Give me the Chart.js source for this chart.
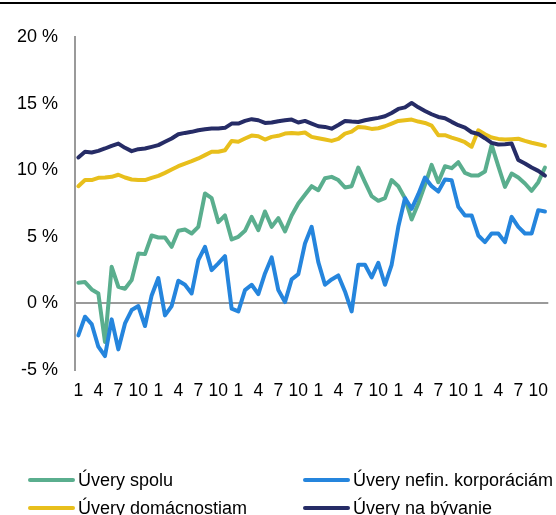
<!DOCTYPE html>
<html><head><meta charset="utf-8">
<script src="https://cdn.jsdelivr.net/npm/chart.js@4"></script>
<style>
html,body{margin:0;padding:0;background:#fff;}
#wrap{position:relative;width:556px;height:515px;overflow:hidden;background:#fff;}
#topline{position:absolute;left:0;top:2px;width:556px;height:2px;background:#000;}
canvas{position:absolute;left:0;top:0;}
.leg{position:absolute;font-family:"Liberation Sans",Arial,sans-serif;font-size:18px;color:#000;white-space:nowrap;height:22px;line-height:22px;}
.leg .sw{position:absolute;left:0;top:9px;width:47px;height:4px;border-radius:2px;}
.leg .tx{position:absolute;left:50px;top:0;}
</style></head>
<body><div id="wrap"><canvas id="c" width="556" height="515"></canvas><div id="topline"></div><div id="legend"></div></div>
<script>
const months = [
 "1","2","3","4","5","6","7","8","9","10","11","12",
 "1","2","3","4","5","6","7","8","9","10","11","12",
 "1","2","3","4","5","6","7","8","9","10","11","12",
 "1","2","3","4","5","6","7","8","9","10","11","12",
 "1","2","3","4","5","6","7","8","9","10","11","12",
 "1","2","3","4","5","6","7","8","9","10","11"
];
const shownMonths = ["1","4","7","10"];
const yTicks = [-5, 0, 5, 10, 15, 20];

const seriesNames = ["Úvery spolu", "Úvery nefin. korporáciám", "Úvery domácnostiam", "Úvery na bývanie"];

const uverySpolu = [
 1.55,1.6,1.05,0.75,-2.9,2.75,1.25,1.1,1.75,3.75,3.7,5.1,
 4.95,4.95,4.25,5.45,5.55,5.25,5.75,8.25,7.9,6.1,6.6,4.8,
 5.0,5.45,6.5,5.5,6.9,5.75,6.4,5.4,6.6,7.5,8.15,8.8,
 8.5,9.4,9.5,9.26,8.7,8.8,10.2,9.1,8.05,7.7,7.9,9.26,
 8.8,7.9,6.3,7.5,8.9,10.4,9.1,10.3,10.15,10.6,9.8,9.6,
 9.6,9.9,11.9,10.3,8.75,9.75,9.45,9.0,8.45,9.1,10.2
];
const uveryNefin = [
 -2.4,-1.0,-1.55,-3.25,-3.95,-1.2,-3.45,-1.5,-0.5,-0.2,-1.7,0.6,
 1.9,-0.9,-0.2,1.7,1.4,0.75,3.25,4.25,2.5,3.0,3.55,-0.4,
 -0.6,1.0,1.4,0.7,2.25,3.45,1.0,0.1,1.8,2.2,4.5,5.75,
 3.1,1.4,1.8,2.1,0.9,-0.6,2.9,2.9,1.95,3.05,1.4,2.9,
 5.75,7.9,7.1,8.2,9.45,8.8,8.4,9.3,9.25,7.25,6.6,6.6,
 5.1,4.6,5.25,5.25,4.6,6.5,5.75,5.25,5.25,7.0,6.9
];
const uveryDomacnostiam = [
 8.8,9.26,9.26,9.43,9.45,9.5,9.66,9.45,9.3,9.26,9.26,9.43,
 9.58,9.8,10.05,10.3,10.5,10.68,10.88,11.13,11.38,11.38,11.5,12.2,
 12.13,12.38,12.6,12.55,12.3,12.5,12.58,12.75,12.8,12.75,12.83,12.5,
 12.4,12.3,12.2,12.35,12.75,12.9,13.25,13.2,13.1,13.15,13.3,13.5,
 13.7,13.75,13.8,13.65,13.55,13.35,12.63,12.63,12.45,12.3,12.1,11.76,
 13.0,12.7,12.45,12.35,12.3,12.33,12.36,12.2,12.06,11.95,11.83
];
const uveryByvanie = [
 10.96,11.38,11.33,11.45,11.63,11.83,12.0,11.68,11.43,11.58,11.63,11.75,
 11.88,12.13,12.38,12.7,12.8,12.88,13.0,13.08,13.13,13.13,13.18,13.5,
 13.5,13.7,13.83,13.75,13.55,13.58,13.68,13.75,13.8,13.58,13.7,13.5,
 13.3,13.25,13.12,13.4,13.7,13.65,13.62,13.75,13.85,13.93,14.05,14.3,
 14.6,14.72,15.05,14.72,14.45,14.2,14.0,13.9,13.63,13.38,13.2,12.85,
 12.72,12.4,12.05,11.93,11.95,12.0,10.76,10.5,10.2,9.95,9.6
];

const colGreen = "#5aae8e";
const colBlue = "#2585dd";
const colYellow = "#e8bf1c";
const colNavy = "#262c66";
const FONT = '"Liberation Sans", Arial, sans-serif';

const datasets = [
 {label: seriesNames[0], data: uverySpolu, borderColor: colGreen, order: 3},
 {label: seriesNames[2], data: uveryDomacnostiam, borderColor: colYellow, order: 2},
 {label: seriesNames[1], data: uveryNefin, borderColor: colBlue, order: 1},
 {label: seriesNames[3], data: uveryByvanie, borderColor: colNavy, order: 0}
];

new Chart(document.getElementById('c').getContext('2d'), {
 type: 'line',
 data: {labels: months, datasets: datasets},
 options: {
  responsive: false, animation: false, devicePixelRatio: 1,
  layout: {padding: {left: 0, right: 6, top: 37, bottom: 115}},
  plugins: {legend: {display: false}, tooltip: {enabled: false}},
  elements: {
   point: {radius: 0},
   line: {borderWidth: 4, tension: 0, borderCapStyle: 'round', borderJoinStyle: 'round', fill: false}
  },
  scales: {
   x: {
    type: 'category', offset: true,
    grid: {display: false, drawTicks: false},
    border: {display: false},
    ticks: {
     autoSkip: false, maxRotation: 0, minRotation: 0, padding: 11, color: '#000',
     font: {family: FONT, size: 17.5},
     callback: function(v, i) { const l = months[i]; return shownMonths.includes(l) ? l : ''; }
    },
    afterFit: function(s) { s.height = 30; }
   },
   y: {
    min: yTicks[0], max: yTicks[yTicks.length - 1],
    afterBuildTicks: function(s) { s.ticks = yTicks.map(v => ({value: v})); },
    ticks: {padding: 17, color: '#000', font: {family: FONT, size: 18}, callback: v => v + ' %'},
    grid: {drawTicks: false, lineWidth: 2,
     color: c => (c.tick && c.tick.value === 0) ? '#9a9a9a' : 'rgba(0,0,0,0)'},
    border: {display: true, color: '#9a9a9a', width: 2},
    afterFit: function(s) { s.width = 75; }
   }
  }
 }
});

// HTML legend (two columns)
const legendItems = [
 {name: seriesNames[0], color: colGreen, col: 0, row: 0},
 {name: seriesNames[1], color: colBlue, col: 1, row: 0},
 {name: seriesNames[2], color: colYellow, col: 0, row: 1},
 {name: seriesNames[3], color: colNavy, col: 1, row: 1}
];
const colX = [28, 303], rowY = [469, 497];
const lg = document.getElementById('legend');
legendItems.forEach(it => {
 const d = document.createElement('div');
 d.className = 'leg';
 d.style.left = colX[it.col] + 'px';
 d.style.top = rowY[it.row] + 'px';
 const sw = document.createElement('span'); sw.className = 'sw'; sw.style.background = it.color;
 const tx = document.createElement('span'); tx.className = 'tx'; tx.textContent = it.name;
 d.appendChild(sw); d.appendChild(tx); lg.appendChild(d);
});
</script>
</body></html>
